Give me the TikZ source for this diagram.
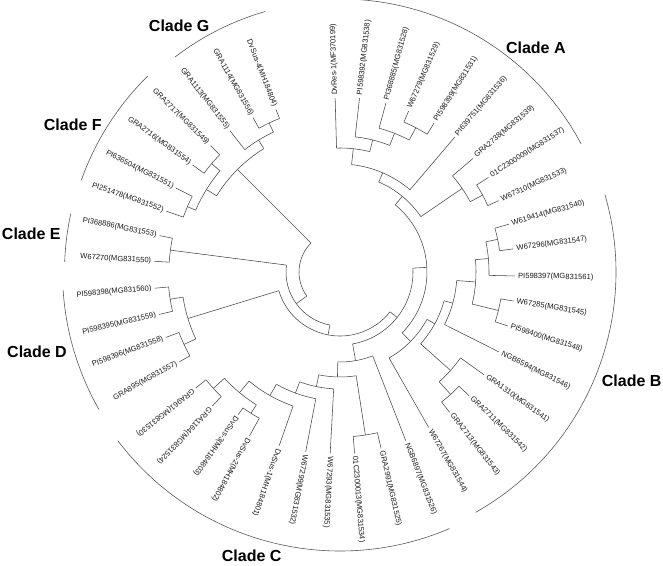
\documentclass[tikz,border=0pt]{standalone}
\usepackage{fontspec}
\setmainfont{Liberation Sans}
\tikzset{
  br/.style={draw=black!72, line width=0.55pt},
  lab/.style={font=\fontsize{7.6}{8}\selectfont, inner sep=0pt, text=black!90},
  cladelab/.style={font=\fontsize{16}{18}\selectfont\bfseries, inner sep=0pt},
  cladearc/.style={draw=black!65, line width=0.6pt}
}
\newcommand{\leafR}[4]{%
  \pgfmathsetmacro{\mytip}{#3-3}%
  \coordinate (#1) at (#2:\mytip);
  \node[lab, anchor=west, rotate=#2] (#1t) at (#2:#3) {#4};}
\newcommand{\leafL}[4]{%
  \pgfmathsetmacro{\mytip}{#3-3}%
  \pgfmathsetmacro{\myrot}{#2+180}%
  \coordinate (#1) at (#2:\mytip);
  \node[lab, anchor=east, rotate=\myrot] (#1t) at (#2:#3) {#4};}
\newcommand{\inode}[5]{%
  \draw[br] (#3:#2) arc[start angle=#3, end angle=#4, radius=#2];
  \coordinate (#1) at (#5:#2);}
\newcommand{\stem}[3]{%
  \coordinate (#1f) at (#2:#3);
  \draw[br] (#1f) -- (#1);}
\begin{document}
\begin{tikzpicture}[x=1pt,y=1pt]
\useasboundingbox (0,0) rectangle (663,565);
\begin{scope}[shift={(340,293)}]
% ---------- leaves ----------
\leafR{L1}{91.6}{177}{DvRes-1(MF370199)}
\leafR{L2}{83.6}{178}{PI598392(MG831538)}
\leafR{L3}{74.8}{178}{PI368885(MG831528)}
\leafR{L4}{66.9}{178}{W67279(MG831529)}
\leafR{L5}{57.7}{179}{PI598399(MG831531)}
\leafR{L6}{49.6}{180}{PI639751(MG831536)}
\leafR{L7}{40.5}{178}{GRA2738(MG831539)}
\leafR{L8}{32.5}{179}{01C2300009(MG831537)}
\leafR{L9}{24.2}{177}{W67310(MG831533)}
\leafR{L10}{15.8}{178.5}{W619414(MG831540)}
\leafR{L11}{7.6}{178}{W67296(MG831547)}
\leafR{L12}{-1.3}{178}{PI598397(MG831561)}
\leafR{L13}{-9.5}{179}{W67285(MG831545)}
\leafR{L14}{-17.8}{179}{PI598400(MG831548)}
\leafR{L15}{-26.7}{181}{NGB6594(MG831546)}
\leafR{L16}{-35.5}{180}{GRA1310(MG831541)}
\leafR{L17}{-43.8}{182}{GRA2711(MG831542)}
\leafR{L18}{-52}{181}{GRA2713(MG831543)}
\leafR{L19}{-60.3}{182}{W67267(MG831544)}
\leafR{L20}{-68.7}{184}{NGB6897(MG831526)}
\leafR{L21}{-76.9}{184}{GRA2991(MG831525)}
\leafR{L22}{-85.4}{185}{01C2300013(MG831534)}
\leafR{L23}{-93.1}{185}{W67293(MG831535)}
\leafR{L24}{-100.8}{186}{W67299(MG831532)}
\leafR{L25}{-109.3}{187}{DvSus-1(MH184801)}
\leafR{L26}{-118.9}{190}{DvSus-2(MH184802)}
\leafR{L27}{-125.5}{178}{DvSus-3(MH184803)}
\leafR{L28}{-133.6}{188}{GRA1164(MG831524)}
\leafR{L29}{-141.2}{188}{GRA961(MG831530)}
\leafL{L30}{-150.8}{187}{GRA895(MG831557)}
\leafL{L31}{-159.4}{189}{PI598396(MG831558)}
\leafL{L32}{-166.8}{189}{PI598395(MG831559)}
\leafL{L33}{-175}{189}{PI598398(MG831560)}
\leafL{L34}{176.7}{189}{W67270(MG831550)}
\leafL{L35}{168.6}{187}{PI368886(MG831553)}
\leafL{L36}{160.7}{187}{PI251478(MG831552)}
\leafL{L37}{152.9}{187}{PI636504(MG831551)}
\leafL{L38}{144}{185}{GRA2716(MG831554)}
\leafL{L39}{135.7}{184}{GRA2717(MG831549)}
\leafL{L40}{127.9}{182}{GRA1113(MG831555)}
\leafL{L41}{119.4}{180}{GRA1114(MG831556)}
\leafL{L42}{111.5}{177.6}{DvSus-4(MH184804)}
% ---------- clade A ----------
\inode{nWP}{163}{66.9}{57.7}{62.3} \stem{L4}{66.9}{163} \stem{L5}{57.7}{163}
\inode{nPa}{149}{74.8}{62.3}{68.55} \stem{L3}{74.8}{149} \stem{nWP}{62.3}{149}
\inode{nPb}{136}{83.6}{68.55}{76.1} \stem{L2}{83.6}{136} \stem{nPa}{68.55}{136}
\inode{nDv}{124}{91.6}{76.1}{83.85} \stem{L1}{91.6}{124} \stem{nPb}{76.1}{124}
\inode{nA1}{108}{83.85}{49.6}{66.7} \stem{nDv}{83.85}{108} \stem{L6}{49.6}{108}
\inode{nOW}{162}{32.5}{24.2}{28.35} \stem{L8}{32.5}{162} \stem{L9}{24.2}{162}
\inode{nGR}{148}{40.5}{28.35}{34.4} \stem{L7}{40.5}{148} \stem{nOW}{28.35}{148}
\inode{nA2}{98}{66.7}{34.4}{50.55} \stem{nA1}{66.7}{98} \stem{nGR}{34.4}{98}
% ---------- clade B ----------
\inode{nW61}{161}{15.8}{7.6}{11.7} \stem{L10}{15.8}{161} \stem{L11}{7.6}{161}
\inode{nP97}{149}{11.7}{-1.3}{5.2} \stem{nW61}{11.7}{149} \stem{L12}{-1.3}{149}
\inode{nW85}{163}{-9.5}{-17.8}{-13.65} \stem{L13}{-9.5}{163} \stem{L14}{-17.8}{163}
\inode{nB1}{136}{5.2}{-13.65}{-4.2} \stem{nP97}{5.2}{136} \stem{nW85}{-13.65}{136}
\inode{nB2}{117}{-4.2}{-26.7}{-15.45} \stem{nB1}{-4.2}{117} \stem{L15}{-26.7}{117}
\inode{nG27}{165}{-43.8}{-52}{-47.9} \stem{L17}{-43.8}{165} \stem{L18}{-52}{165}
\inode{nB3}{148}{-35.5}{-47.9}{-41.7} \stem{L16}{-35.5}{148} \stem{nG27}{-47.9}{148}
\inode{nXB}{108}{-15.45}{-41.7}{-28.6} \stem{nB2}{-15.45}{108} \stem{nB3}{-41.7}{108}
\inode{nV}{99}{-28.6}{-60.3}{-44.45} \stem{nXB}{-28.6}{99} \stem{L19}{-60.3}{99}
\inode{nW}{87}{50.55}{-44.45}{3.05} \stem{nA2}{50.55}{87} \stem{nV}{-44.45}{87}
% ---------- clade C ----------
\inode{nGC}{165}{-76.9}{-85.4}{-81.15} \stem{L21}{-76.9}{165} \stem{L22}{-85.4}{165}
\inode{nD23}{167}{-118.9}{-125.5}{-122.2} \stem{L26}{-118.9}{167} \stem{L27}{-125.5}{167}
\inode{nG9}{172}{-133.6}{-141.2}{-137.4} \stem{L28}{-133.6}{172} \stem{L29}{-141.2}{172}
\inode{nC6}{157}{-122.2}{-137.4}{-129.8} \stem{nD23}{-122.2}{157} \stem{nG9}{-137.4}{157}
\inode{nC5}{142}{-109.3}{-129.8}{-119.55} \stem{L25}{-109.3}{142} \stem{nC6}{-129.8}{142}
\inode{nC4}{129}{-100.8}{-119.55}{-110.2} \stem{L24}{-100.8}{129} \stem{nC5}{-119.55}{129}
\inode{nC3}{117}{-93.1}{-110.2}{-101.65} \stem{L23}{-93.1}{117} \stem{nC4}{-110.2}{117}
\inode{nC2}{105}{-81.15}{-101.65}{-91.4} \stem{nGC}{-81.15}{105} \stem{nC3}{-101.65}{105}
\inode{nC}{90}{-68.7}{-91.4}{-80.05} \stem{L20}{-68.7}{90} \stem{nC2}{-91.4}{90}
\inode{nZ}{73}{3.05}{-80.05}{-38.5} \stem{nW}{3.05}{73} \stem{nC}{-80.05}{73}
% ---------- clade D, E ----------
\inode{nD1}{172}{-175}{-166.8}{-170.9} \stem{L33}{-175}{172} \stem{L32}{-166.8}{172}
\inode{nD2}{172}{-159.4}{-150.8}{-155.1} \stem{L31}{-159.4}{172} \stem{L30}{-150.8}{172}
\inode{nD}{159}{-170.9}{-155.1}{-163} \stem{nD1}{-170.9}{159} \stem{nD2}{-155.1}{159}
\inode{nY}{64}{-163}{-38.5}{-100.75} \stem{nD}{-163}{64} \stem{nZ}{-38.5}{64}
\inode{nE}{171}{176.7}{168.6}{172.65} \stem{L34}{176.7}{171} \stem{L35}{168.6}{171}
\inode{nX}{54}{172.65}{259.25}{215.95} \stem{nE}{172.65}{54} \stem{nY}{259.25}{54}
% ---------- clade F, G ----------
\inode{nPP}{166}{160.7}{152.9}{156.8} \stem{L36}{160.7}{166} \stem{L37}{152.9}{166}
\inode{nF3}{168}{144}{135.7}{139.85} \stem{L38}{144}{168} \stem{L39}{135.7}{168}
\inode{nF}{157}{156.8}{139.85}{148.3} \stem{nPP}{156.8}{157} \stem{nF3}{139.85}{157}
\inode{nG2}{165}{119.4}{111.5}{115.45} \stem{L41}{119.4}{165} \stem{L42}{111.5}{165}
\inode{nG}{155}{127.9}{115.45}{121.7} \stem{L40}{127.9}{155} \stem{nG2}{115.45}{155}
\inode{nFG}{145}{148.3}{121.7}{135} \stem{nF}{148.3}{145} \stem{nG}{121.7}{145}
% ---------- root ----------
\inode{nR}{41}{135}{215.95}{175.5} \stem{nFG}{135}{41} \stem{nX}{215.95}{41}
% ---------- clade arcs ----------
\draw[cladearc] (93:273) arc[start angle=93, end angle=28, radius=273];
\draw[cladearc] (16.3:276) arc[start angle=16.3, end angle=-60.6, radius=276];
\draw[cladearc] (-66.9:279) arc[start angle=-66.9, end angle=-142.8, radius=279];
\draw[cladearc] (-176.3:277.5) arc[start angle=-176.3, end angle=-150.3, radius=277.5];
\draw[cladearc] (167.8:275.5) arc[start angle=167.8, end angle=177.9, radius=275.5];
\draw[cladearc] (134.5:274.5) arc[start angle=134.5, end angle=160.5, radius=274.5];
\draw[cladearc] (106:271) arc[start angle=106, end angle=127.5, radius=271];
\end{scope}
% ---------- clade labels ----------
\node[cladelab] (cA) at (535.8,517.1) {Clade A};
\node[cladelab] (cB) at (631.7,184) {Clade B};
\node[cladelab] (cC) at (251.7,9.5) {Clade C};
\node[cladelab] (cD) at (37,213.3) {Clade D};
\node[cladelab] (cE) at (31.3,331) {Clade E};
\node[cladelab] (cF) at (72.8,440) {Clade F};
\node[cladelab] (cG) at (179.2,538.8) {Clade G};
\end{tikzpicture}
\end{document}
